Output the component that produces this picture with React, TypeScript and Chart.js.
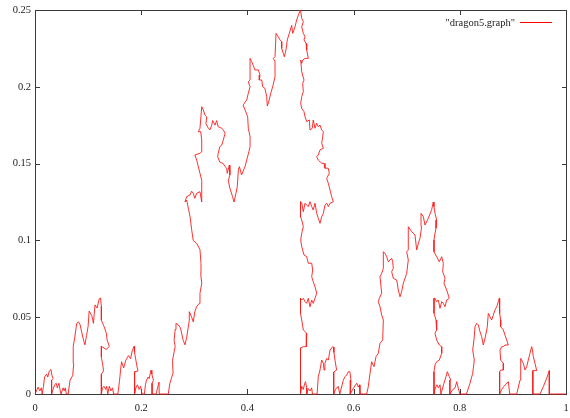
import { useEffect, useRef } from "react";
import { Chart, registerables } from "chart.js";

Chart.register(...registerables);

const seriesLabel = '"dragon5.graph"';
const xTickValues = [0, 0.2, 0.4, 0.6, 0.8, 1];
const xTickLabels = ["0", "0.2", "0.4", "0.6", "0.8", "1"];
const yTickValues = [0, 0.05, 0.1, 0.15, 0.2, 0.25];
const yTickLabels = ["0", "0.05", "0.1", "0.15", "0.2", "0.25"];

// Curve traced in drawing order, split into pieces: [x, y]
const pieceStart: [number, number][] = [
  [0, 0], [0.004, 0.003], [0.006, 0.0045], [0.009, 0.002], [0.012, 0.004], [0.0135, 0],
  [0.016, 0.005], [0.018, 0.011], [0.022, 0.013], [0.024, 0.011], [0.027, 0.015], [0.03, 0.016],
  [0.032, 0.012], [0.034, 0.01], [0.03125, 0.009], [0.03125, 0], [0.034, 0.003], [0.037, 0.006],
  [0.04, 0.007], [0.042, 0.004], [0.045, 0.007], [0.047, 0.003], [0.049, 0], [0.053, 0.004],
  [0.055, 0.002], [0.057, 0.004], [0.059, 0], [0.0625, 0],
];

const pieceSmallPeak: [number, number][] = [
  [0.066, 0.009], [0.071, 0.012], [0.073, 0.02], [0.072, 0.031], [0.075, 0.037], [0.0785, 0.046],
  [0.082, 0.047], [0.085, 0.045], [0.09, 0.037], [0.094, 0.032], [0.097, 0.038], [0.1, 0.044],
  [0.102, 0.054], [0.107, 0.051], [0.11, 0.046], [0.113, 0.058], [0.117, 0.056], [0.121, 0.062],
  [0.1235, 0.0625], [0.125, 0.057], [0.125, 0.048], [0.13, 0.044], [0.134, 0.04], [0.136, 0.035],
  [0.14, 0.031], [0.134, 0.029], [0.125, 0.031], [0.125, 0.024], [0.128, 0.018], [0.129, 0.015],
  [0.125, 0.013], [0.125, 0],
];

const pieceSecondBumps: [number, number][] = [
  [0.127, 0.004], [0.13, 0.005], [0.133, 0.003], [0.135, 0.005], [0.137, 0], [0.14, 0.005],
  [0.143, 0.002], [0.146, 0.004], [0.148, 0], [0.156, 0], [0.159, 0.008], [0.161, 0.015],
  [0.163, 0.021], [0.167, 0.017], [0.171, 0.022], [0.176, 0.025], [0.18, 0.023], [0.183, 0.028],
  [0.1865, 0.031], [0.1875, 0.027], [0.19, 0.022], [0.192, 0.018], [0.194, 0.015], [0.1875, 0.0145],
  [0.1875, 0], [0.19, 0.004], [0.193, 0.006], [0.196, 0.003], [0.199, 0.005], [0.2015, 0],
  [0.206, 0], [0.208, 0.006], [0.21, 0.009], [0.213, 0.011], [0.215, 0.01], [0.2185, 0.0155],
  [0.22, 0.013], [0.223, 0.009], [0.2205, 0.007], [0.2205, 0], [0.228, 0], [0.2335, 0.0078],
  [0.234, 0], [0.25, 0],
];

const pieceBigRise: [number, number][] = [
  [0.251, 0], [0.254, 0.007], [0.26, 0.0137], [0.259, 0.022], [0.264, 0.031], [0.262, 0.035],
  [0.264, 0.042], [0.2655, 0.046], [0.27, 0.045], [0.274, 0.043], [0.279, 0.035], [0.2825, 0.032],
  [0.2857, 0.037], [0.2906, 0.048], [0.2906, 0.0536], [0.295, 0.05], [0.298, 0.047], [0.301, 0.0536],
  [0.3045, 0.057], [0.3094, 0.059], [0.3107, 0.0656], [0.314, 0.072], [0.312, 0.0786], [0.3126, 0.085],
  [0.3107, 0.094], [0.3045, 0.098], [0.298, 0.1], [0.295, 0.107], [0.292, 0.1154], [0.2887, 0.121],
  [0.2857, 0.1263], [0.2825, 0.125], [0.2857, 0.1285], [0.292, 0.1296], [0.295, 0.132], [0.298, 0.1307],
  [0.301, 0.1274], [0.3045, 0.1307], [0.3107, 0.1317], [0.314, 0.125], [0.314, 0.139], [0.3107, 0.1437],
  [0.3075, 0.148], [0.3045, 0.1523], [0.301, 0.1556], [0.3107, 0.1567], [0.314, 0.1577], [0.314, 0.1654],
  [0.312, 0.1708], [0.3075, 0.1708], [0.3107, 0.173], [0.314, 0.187], [0.317, 0.185], [0.32, 0.1816],
  [0.3233, 0.1805], [0.322, 0.176], [0.3264, 0.173], [0.3296, 0.172], [0.3328, 0.175], [0.3346, 0.178],
  [0.339, 0.175], [0.342, 0.178], [0.345, 0.174], [0.3516, 0.173], [0.3546, 0.172], [0.358, 0.1697],
  [0.3546, 0.1654], [0.3516, 0.162], [0.348, 0.161], [0.345, 0.1567], [0.344, 0.1545], [0.348, 0.151],
  [0.3546, 0.15], [0.358, 0.148], [0.361, 0.147], [0.362, 0.1437], [0.366, 0.149], [0.367, 0.1426],
  [0.364, 0.139], [0.367, 0.134], [0.372, 0.1285], [0.3748, 0.125], [0.3785, 0.1307], [0.381, 0.135],
  [0.383, 0.1458], [0.385, 0.148], [0.389, 0.1426], [0.3955, 0.148], [0.3987, 0.1523], [0.403, 0.158],
  [0.405, 0.161], [0.405, 0.1675], [0.4017, 0.173], [0.4005, 0.1805], [0.3955, 0.185], [0.392, 0.188],
  [0.3955, 0.19], [0.3987, 0.1914], [0.4017, 0.1958], [0.405, 0.2], [0.4017, 0.2033], [0.405, 0.2044],
  [0.405, 0.2185], [0.408, 0.2164], [0.411, 0.214], [0.414, 0.211], [0.4205, 0.211], [0.4237, 0.2077],
  [0.4224, 0.2044], [0.427, 0.2044], [0.4288, 0.2], [0.433, 0.199], [0.4363, 0.1936], [0.4375, 0.1875],
  [0.441, 0.1914], [0.4439, 0.1958], [0.4476, 0.2], [0.452, 0.2066], [0.452, 0.2164], [0.4488, 0.2185],
  [0.452, 0.2196], [0.4539, 0.2348], [0.458, 0.2326], [0.4614, 0.2305], [0.4646, 0.2294], [0.4646, 0.225],
  [0.4676, 0.2218], [0.4695, 0.2196], [0.4727, 0.224], [0.4751, 0.2305], [0.4789, 0.2348], [0.4834, 0.24],
  [0.4853, 0.2348], [0.4896, 0.239], [0.4928, 0.2435], [0.4959, 0.2467], [0.5, 0.25],
];

const pieceBigDescent: [number, number][] = [
  [0.5023, 0.2446], [0.5053, 0.2424], [0.5023, 0.239], [0.5053, 0.2348], [0.5085, 0.2326], [0.5066, 0.2305],
  [0.5104, 0.2283], [0.5117, 0.224], [0.5147, 0.2185], [0.5085, 0.2185], [0.5041, 0.2174], [0.5023, 0.2153],
  [0.5004, 0.2174], [0.5023, 0.2098], [0.5066, 0.2044], [0.5041, 0.2023], [0.5053, 0.1968], [0.5023, 0.1936],
  [0.5004, 0.1893], [0.5023, 0.186], [0.5066, 0.1838], [0.5085, 0.1805], [0.5117, 0.1773], [0.5166, 0.1784],
  [0.5179, 0.1719], [0.5222, 0.173], [0.524, 0.1784], [0.5273, 0.173], [0.5305, 0.1762], [0.5335, 0.174],
  [0.5367, 0.1751], [0.5399, 0.1719], [0.543, 0.1708], [0.5418, 0.1675], [0.5399, 0.1632], [0.543, 0.16],
  [0.5367, 0.1589], [0.5335, 0.1556], [0.5305, 0.1545], [0.5335, 0.1523], [0.5399, 0.1502], [0.5443, 0.1502],
  [0.5461, 0.147], [0.5524, 0.147], [0.5542, 0.1437], [0.5493, 0.1404], [0.5524, 0.1372], [0.5556, 0.1328],
  [0.5587, 0.1285], [0.5618, 0.1252], [0.5556, 0.1242], [0.5524, 0.122], [0.5493, 0.1242], [0.5461, 0.123],
  [0.543, 0.1176], [0.5399, 0.1154], [0.5367, 0.1111], [0.5335, 0.1144], [0.5305, 0.1176], [0.5273, 0.1242],
  [0.524, 0.1198], [0.5211, 0.122], [0.5179, 0.1252], [0.5147, 0.122], [0.5117, 0.123], [0.5085, 0.1242],
  [0.5053, 0.1187], [0.5023, 0.1242], [0.5, 0.1252], [0.5, 0.1154], [0.5023, 0.1133], [0.5053, 0.109],
  [0.5023, 0.1046], [0.5004, 0.1003], [0.5023, 0.0959], [0.5066, 0.0905], [0.5117, 0.0894], [0.5147, 0.0851],
  [0.5211, 0.0851], [0.523, 0.0807], [0.5211, 0.0764], [0.524, 0.0731], [0.5273, 0.0699], [0.5305, 0.0656],
  [0.5273, 0.0623], [0.524, 0.059], [0.5211, 0.0612], [0.5179, 0.0568], [0.5147, 0.0623], [0.5117, 0.059],
  [0.5085, 0.0601], [0.5053, 0.0623], [0.5023, 0.0612], [0.5, 0.0623], [0.5, 0.0525], [0.5023, 0.0482],
  [0.5053, 0.0417], [0.5117, 0.0395], [0.5104, 0.0352], [0.5117, 0.0308], [0.5053, 0.0308], [0.5, 0.03],
  [0.5, 0],
];

const pieceRightBumps: [number, number][] = [
  [0.5023, 0.005], [0.5053, 0.003], [0.508, 0.007], [0.5095, 0.008], [0.5117, 0.004], [0.5117, 0],
  [0.5147, 0.0035], [0.518, 0.002], [0.521, 0.004], [0.5225, 0], [0.53125, 0], [0.5335, 0.0113],
  [0.5367, 0.0156], [0.5399, 0.0221], [0.543, 0.02], [0.5443, 0.0156], [0.546, 0.02], [0.5493, 0.0232],
  [0.5524, 0.0221], [0.5556, 0.0286], [0.5606, 0.0308], [0.562, 0.0306], [0.563, 0.027], [0.565, 0.022],
  [0.568, 0.0156], [0.5625, 0.0143], [0.5625, 0], [0.566, 0.003], [0.571, 0.005], [0.574, 0],
  [0.5806, 0.009], [0.584, 0.0113], [0.587, 0.0124], [0.59, 0.0145], [0.593, 0.0145], [0.595, 0.009],
  [0.59375, 0.0078], [0.59375, 0], [0.6, 0.004], [0.6058, 0.007], [0.609, 0.0045], [0.611, 0.006],
  [0.612, 0], [0.6246, 0],
];

const pieceMidRise: [number, number][] = [
  [0.6277, 0.0048], [0.6309, 0.0135], [0.634, 0.021], [0.6384, 0.0178], [0.6422, 0.0243], [0.6465, 0.0265],
  [0.6497, 0.033], [0.6548, 0.0352], [0.656, 0.0482], [0.6529, 0.0514], [0.6497, 0.0568], [0.6465, 0.0601],
  [0.6484, 0.0623], [0.6529, 0.0656], [0.6497, 0.0764], [0.6529, 0.0786], [0.656, 0.0818], [0.656, 0.0926],
  [0.6591, 0.0916], [0.6623, 0.0894], [0.6654, 0.0861], [0.6717, 0.0883], [0.6736, 0.0861], [0.6748, 0.0818],
  [0.6717, 0.0796], [0.6748, 0.0753], [0.6812, 0.0742], [0.6842, 0.0677], [0.6874, 0.0633], [0.6905, 0.0666],
  [0.6936, 0.0721], [0.6968, 0.0753], [0.7, 0.0786], [0.703, 0.0872], [0.7, 0.0926], [0.703, 0.0938],
  [0.703, 0.1089], [0.7094, 0.1057], [0.7156, 0.1035], [0.7188, 0.0938], [0.722, 0.0981], [0.725, 0.1014],
  [0.7282, 0.1089], [0.727, 0.1176], [0.7313, 0.1154], [0.7345, 0.11], [0.7407, 0.1144], [0.747, 0.12],
  [0.75, 0.125],
];

const pieceMidDescent: [number, number][] = [
  [0.7514, 0.122], [0.7533, 0.1176], [0.7564, 0.1133], [0.7552, 0.1079], [0.7533, 0.1046], [0.7514, 0.1003],
  [0.7514, 0.0926], [0.7564, 0.0894], [0.7614, 0.0861], [0.7659, 0.0894], [0.769, 0.0851], [0.7678, 0.0796],
  [0.7721, 0.0753], [0.7702, 0.072], [0.7753, 0.0677], [0.7802, 0.0623], [0.7753, 0.0612], [0.7721, 0.0568],
  [0.769, 0.059], [0.7659, 0.0601], [0.7627, 0.0558], [0.7595, 0.0612], [0.7564, 0.0601], [0.7533, 0.0623],
  [0.7514, 0.0623], [0.7514, 0.0525], [0.7552, 0.0482], [0.7564, 0.0417], [0.7533, 0.0395], [0.7564, 0.0352],
  [0.7614, 0.0319], [0.7659, 0.0308], [0.7659, 0.0265], [0.7614, 0.0221], [0.7564, 0.021], [0.7533, 0.0189],
  [0.7514, 0.0145], [0.7514, 0],
];

const pieceQuarterBumps: [number, number][] = [
  [0.754, 0.004], [0.757, 0.006], [0.7595, 0.004], [0.7627, 0.006], [0.7645, 0], [0.7702, 0.007],
  [0.774, 0.0113], [0.7765, 0.0145], [0.7802, 0.0113], [0.783, 0.009], [0.78125, 0.009], [0.78125, 0],
  [0.787, 0.003], [0.791, 0.004], [0.7942, 0.008], [0.797, 0.004], [0.8, 0], [0.8125, 0],
];

const pieceQuarterPeak: [number, number][] = [
  [0.8192, 0.007], [0.8243, 0.0135], [0.8273, 0.0221], [0.8243, 0.0286], [0.8267, 0.0352], [0.8286, 0.0438],
  [0.8318, 0.046], [0.8349, 0.0449], [0.838, 0.0406], [0.8412, 0.0373], [0.8443, 0.0319], [0.8475, 0.0363],
  [0.8507, 0.0417], [0.8518, 0.0438], [0.8537, 0.0525], [0.8569, 0.0503], [0.86, 0.0482], [0.8631, 0.0514],
  [0.8663, 0.0547], [0.8695, 0.0568], [0.8725, 0.0601], [0.8744, 0.0623], [0.8757, 0.058], [0.8744, 0.0525],
  [0.877, 0.0482], [0.877, 0.0438], [0.882, 0.0417], [0.8851, 0.0384], [0.8883, 0.0352], [0.8914, 0.0319],
  [0.8851, 0.0319], [0.882, 0.0308], [0.8789, 0.0308], [0.8757, 0.0286], [0.877, 0.0221], [0.882, 0.02],
  [0.882, 0.0156], [0.877, 0.0156], [0.875, 0.0145], [0.875, 0],
];

const pieceEnd: [number, number][] = [
  [0.879, 0.003], [0.883, 0.005], [0.8914, 0.008], [0.894, 0], [0.9072, 0], [0.9134, 0.0091],
  [0.9147, 0.0232], [0.9196, 0.02], [0.9228, 0.0156], [0.926, 0.0178], [0.929, 0.0221], [0.9322, 0.0265],
  [0.9354, 0.0308], [0.9369, 0.0286], [0.9384, 0.0243], [0.9416, 0.02], [0.9448, 0.0152], [0.9375, 0.0152],
  [0.9375, 0], [0.951, 0], [0.9573, 0.0048], [0.9636, 0.0102], [0.9686, 0.0152], [0.9686, 0], [1, 0],
];

const pieces = [
  pieceStart, pieceSmallPeak, pieceSecondBumps, pieceBigRise, pieceBigDescent,
  pieceRightBumps, pieceMidRise, pieceMidDescent, pieceQuarterBumps, pieceQuarterPeak, pieceEnd,
];

const FONT = '"Liberation Serif", "Times New Roman", serif';

function labelFor(values: number[], labels: string[], v: number) {
  const i = values.findIndex((t) => Math.abs(t - v) < 1e-9);
  return i >= 0 ? labels[i] : "";
}

const framePlugin = {
  id: "gnuplotFrame",
  beforeDatasetsDraw(chart: any) {
    const { ctx, chartArea, scales } = chart;
    const { left, right, top, bottom } = chartArea;
    ctx.save();
    ctx.strokeStyle = "#3a3a3a";
    ctx.lineWidth = 1;
    ctx.beginPath();
    ctx.rect(left + 0.5, top + 0.5, right - left, bottom - top);
    ctx.stroke();
    ctx.beginPath();
    for (const v of xTickValues) {
      const px = Math.round(scales.x.getPixelForValue(v)) + 0.5;
      ctx.moveTo(px, bottom);
      ctx.lineTo(px, bottom - 5);
      ctx.moveTo(px, top);
      ctx.lineTo(px, top + 5);
    }
    for (const v of yTickValues) {
      const py = Math.round(scales.y.getPixelForValue(v)) + 0.5;
      ctx.moveTo(left, py);
      ctx.lineTo(left + 5, py);
      ctx.moveTo(right + 1, py);
      ctx.lineTo(right - 4, py);
    }
    ctx.stroke();
    ctx.restore();
  },
  afterDraw(chart: any) {
    const { ctx } = chart;
    ctx.save();
    ctx.font = `10.5px ${FONT}`;
    ctx.fillStyle = "#222";
    ctx.textAlign = "right";
    ctx.textBaseline = "middle";
    ctx.fillText(seriesLabel, 515, 23);
    ctx.strokeStyle = "#ff0000";
    ctx.lineWidth = 1;
    ctx.beginPath();
    ctx.moveTo(520, 22.5);
    ctx.lineTo(552, 22.5);
    ctx.stroke();
    ctx.restore();
  },
};

export default function App() {
  const canvasRef = useRef<HTMLCanvasElement | null>(null);

  useEffect(() => {
    document.body.style.margin = "0";
    const canvas = canvasRef.current;
    if (!canvas) return;
    const data = pieces.flat().map(([x, y]) => ({ x, y }));
    const chart = new Chart(canvas, {
      type: "scatter",
      data: {
        datasets: [
          {
            label: seriesLabel,
            data,
            showLine: true,
            borderColor: "#ff1a1a",
            backgroundColor: "#ff1a1a",
            borderWidth: 0.9,
            pointRadius: 0,
            pointHoverRadius: 0,
            tension: 0,
            clip: 3,
          } as any,
        ],
      },
      options: {
        animation: false,
        responsive: false,
        events: [],
        layout: { padding: { top: 10, right: 4, left: 0, bottom: 0 } },
        plugins: { legend: { display: false }, tooltip: { enabled: false } },
        scales: {
          x: {
            type: "linear",
            min: 0,
            max: 1,
            grid: { display: false, drawTicks: false },
            border: { display: false },
            afterBuildTicks(scale: any) {
              scale.ticks = xTickValues.map((value) => ({ value }));
            },
            ticks: {
              padding: 8,
              color: "#222",
              font: { family: FONT, size: 10.5 },
              maxRotation: 0,
              autoSkip: false,
              callback: (v: any) => labelFor(xTickValues, xTickLabels, Number(v)),
            },
            afterFit(scale: any) {
              scale.height = 24;
              scale.paddingLeft = 0;
              scale.paddingRight = 0;
            },
          },
          y: {
            type: "linear",
            min: 0,
            max: 0.25,
            grid: { display: false, drawTicks: false },
            border: { display: false },
            afterBuildTicks(scale: any) {
              scale.ticks = yTickValues.map((value) => ({ value }));
            },
            ticks: {
              padding: 4,
              color: "#222",
              font: { family: FONT, size: 10.5 },
              autoSkip: false,
              callback: (v: any) => labelFor(yTickValues, yTickLabels, Number(v)),
            },
            afterFit(scale: any) {
              scale.width = 35;
              scale.paddingTop = 0;
              scale.paddingBottom = 0;
            },
          },
        },
      },
      plugins: [framePlugin],
    });
    return () => chart.destroy();
  }, []);

  return (
    <div style={{ position: "absolute", left: 0, top: 0, width: 570, height: 418, background: "#fff" }}>
      <canvas ref={canvasRef} width={570} height={418} />
    </div>
  );
}
